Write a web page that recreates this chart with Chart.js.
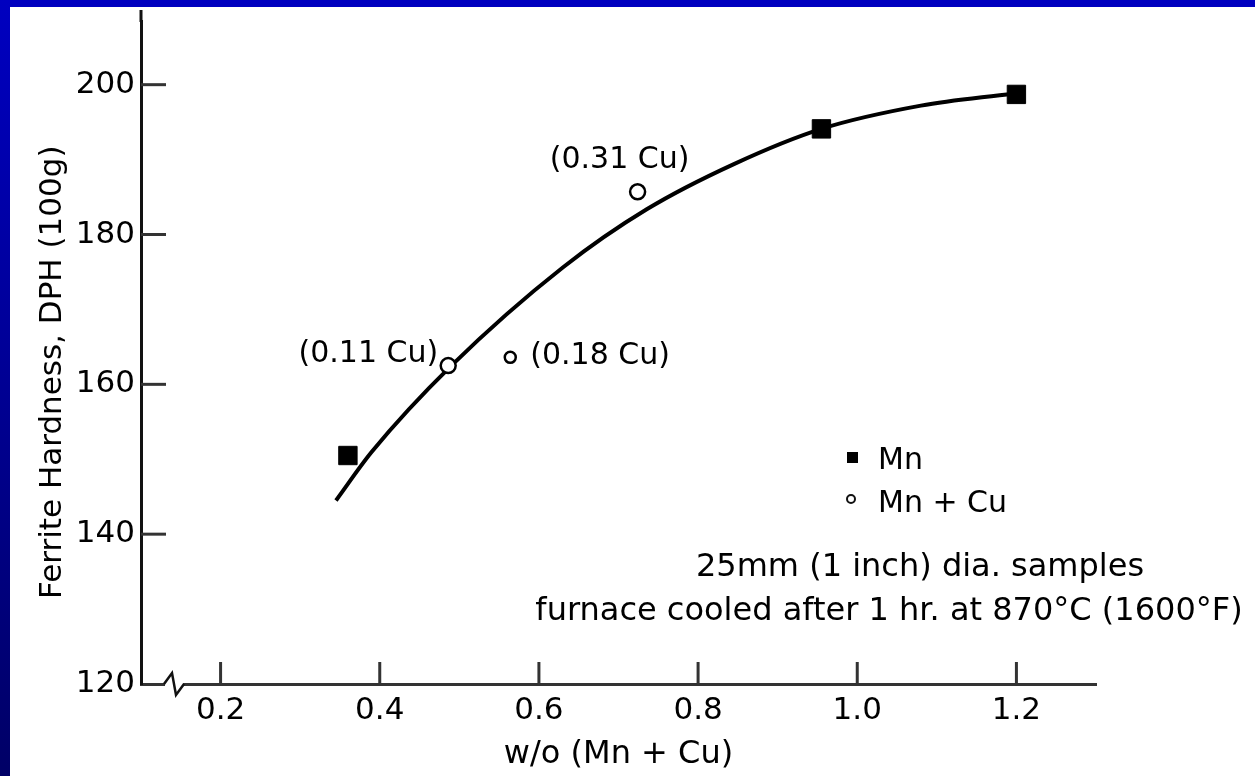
<!DOCTYPE html>
<html>
<head>
<meta charset="utf-8">
<script src="https://cdn.jsdelivr.net/npm/chart.js@4.4.1/dist/chart.umd.min.js"></script>
<style>
  html, body { margin: 0; padding: 0; }
  body {
    width: 1255px; height: 776px; overflow: hidden; position: relative;
    background: linear-gradient(#0000c0, #000066);
  }
  #frame { position: absolute; left: 10px; top: 7px; width: 1245px; height: 769px; background: #fff; }
</style>
</head>
<body>
<div id="frame"><canvas id="chart"></canvas></div>
<script>
// axis ticks
const xTickValues = [0.2, 0.4, 0.6, 0.8, 1.0, 1.2];
const xTickLabels = ['0.2', '0.4', '0.6', '0.8', '1.0', '1.2'];
const yTickValues = [120, 140, 160, 180, 200];
const yTickLabels = ['120', '140', '160', '180', '200'];
const Y_MAX = 208.5;

// Mn samples (filled squares)
const mnX = [0.36, 0.955, 1.2];
const mnY = [150.5, 194.1, 198.7];

// Mn + Cu samples (open circles)
const cuX = [0.486, 0.564, 0.724];
const cuY = [162.5, 163.6, 185.7];
const cuLabels = ['(0.11 Cu)', '(0.18 Cu)', '(0.31 Cu)'];

// hand drawn trend curve
const curveX = [0.345, 0.39, 0.49, 0.63, 0.736, 0.845, 0.955, 1.08, 1.195];
const curveY = [144.5, 151.0, 162.5, 175.6, 183.4, 189.4, 194.1, 197.2, 198.8];

const noteLines = ['25mm (1 inch) dia. samples', 'furnace cooled after 1 hr. at 870°C (1600°F)'];

const pairs = (xs, ys) => xs.map((x, i) => ({ x: x, y: ys[i] }));
const FONT = 'DejaVu Sans';

Chart.defaults.font.family = FONT;
Chart.defaults.color = '#000';

function line(ctx, x1, y1, x2, y2) {
    ctx.beginPath();
    ctx.moveTo(x1, y1);
    ctx.lineTo(x2, y2);
    ctx.stroke();
}

const decor = {
    id: 'decor',
    afterDraw(chart) {
        const { ctx, chartArea: a } = chart;
        const x = chart.scales.x, y = chart.scales.y;
        ctx.save();

        // y axis runs a little past the plot top
        ctx.strokeStyle = '#111';
        ctx.lineWidth = 3;
        line(ctx, a.left, a.top + 1, a.left, 3);

        // inward tick marks
        ctx.strokeStyle = '#333';
        yTickValues.forEach(v => {
            if (v === y.min) return;
            const py = y.getPixelForValue(v);
            line(ctx, a.left, py, a.left + 25, py);
        });
        xTickValues.forEach(v => {
            const px = x.getPixelForValue(v);
            line(ctx, px, a.bottom, px, a.bottom - 22);
        });

        // axis break on x
        ctx.fillStyle = '#fff';
        ctx.fillRect(a.left + 24, a.bottom - 4, 18, 8);
        ctx.strokeStyle = '#111';
        ctx.lineWidth = 2.5;
        ctx.beginPath();
        ctx.moveTo(a.left + 23, a.bottom);
        ctx.lineTo(a.left + 31, a.bottom - 11);
        ctx.lineTo(a.left + 35, a.bottom + 11);
        ctx.lineTo(a.left + 43, a.bottom);
        ctx.stroke();

        // labels next to the Mn + Cu points
        ctx.fillStyle = '#000';
        ctx.textBaseline = 'middle';
        ctx.font = '30px ' + FONT;
        const pts = chart.getDatasetMeta(1).data;
        const offs = [[-10, -11, 'right'], [20, -1, 'left'], [-18, -32, 'center']];
        pts.forEach((p, i) => {
            ctx.textAlign = offs[i][2];
            ctx.fillText(cuLabels[i], p.x + offs[i][0], p.y + offs[i][1]);
        });

        // legend
        ctx.textAlign = 'left';
        ctx.font = '30px ' + FONT;
        ctx.fillRect(837, 445, 11, 11);
        ctx.fillText('Mn', 868, 454);
        ctx.beginPath();
        ctx.arc(841, 492, 4, 0, Math.PI * 2);
        ctx.lineWidth = 2;
        ctx.stroke();
        ctx.fillText('Mn + Cu', 868, 497);

        // notes
        ctx.textAlign = 'center';
        ctx.font = '32px ' + FONT;
        ctx.fillText(noteLines[0], 910, 561);
        ctx.fillText(noteLines[1], 879, 605);

        ctx.restore();
    }
};

new Chart(document.getElementById('chart'), {
    type: 'scatter',
    data: {
        datasets: [{
            label: 'Mn',
            data: pairs(mnX, mnY),
            showLine: false,
            pointStyle: 'rect',
            pointRadius: 13,
            pointBackgroundColor: '#000',
            pointBorderColor: '#000',
            pointBorderWidth: 1,
            order: 1
        }, {
            label: 'Mn + Cu',
            data: pairs(cuX, cuY),
            showLine: false,
            pointStyle: 'circle',
            pointRadius: [7.5, 5.5, 7.5],
            pointBackgroundColor: '#fff',
            pointBorderColor: '#000',
            pointBorderWidth: 2.5,
            order: 2
        }, {
            label: 'trend',
            data: pairs(curveX, curveY),
            showLine: true,
            pointRadius: 0,
            borderColor: '#000',
            borderWidth: 4,
            cubicInterpolationMode: 'monotone',
            fill: false,
            order: 3
        }]
    },
    options: {
        responsive: true,
        maintainAspectRatio: false,
        animation: false,
        layout: { padding: { top: 0, right: 159, bottom: 0, left: 0 } },
        plugins: { legend: { display: false }, tooltip: { enabled: false } },
        scales: {
            x: {
                type: 'linear',
                min: 0.1,
                max: 1.3,
                afterBuildTicks: s => { s.ticks = xTickValues.map(v => ({ value: v })); },
                afterFit: s => { s.height = 92; },
                ticks: {
                    autoSkip: false,
                    maxRotation: 0,
                    padding: 8,
                    font: { size: 31 },
                    color: '#000',
                    callback: v => { const i = xTickValues.indexOf(v); return i < 0 ? null : xTickLabels[i]; }
                },
                grid: { display: false, drawTicks: false },
                border: { display: true, color: '#333', width: 3 },
                title: { display: true, text: 'w/o (Mn + Cu)', font: { size: 32 }, color: '#000', padding: { top: 0, bottom: 2 } }
            },
            y: {
                type: 'linear',
                min: 120,
                max: Y_MAX,
                afterBuildTicks: s => { s.ticks = yTickValues.map(v => ({ value: v })).concat([{ value: Y_MAX }]); },
                afterFit: s => { s.width = 131; },
                ticks: {
                    autoSkip: false,
                    padding: 6,
                    font: c => ({ size: (c.tick && c.tick.value === Y_MAX) ? 1 : 31 }),
                    color: '#000',
                    callback: v => { const i = yTickValues.indexOf(v); return i < 0 ? ' ' : yTickLabels[i]; }
                },
                grid: { display: false, drawTicks: false },
                border: { display: true, color: '#111', width: 3 },
                title: { display: true, text: 'Ferrite Hardness, DPH (100g)    ', font: { size: 31 }, color: '#000', padding: { top: 24, bottom: 0 } }
            }
        }
    },
    plugins: [decor]
});
</script>
</body>
</html>
